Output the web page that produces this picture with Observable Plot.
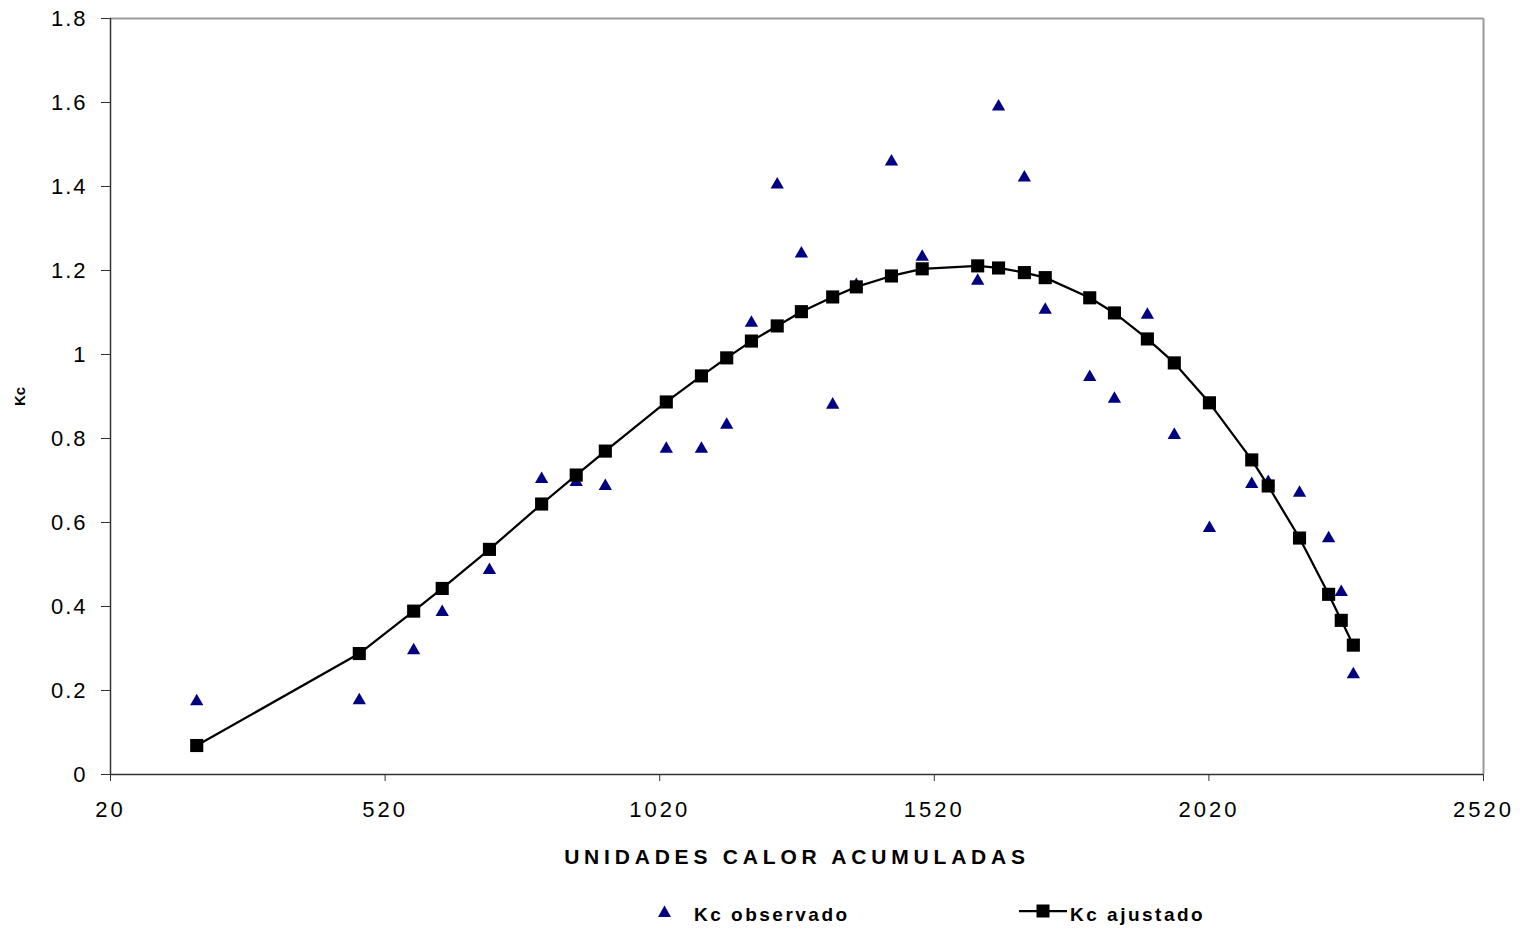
<!DOCTYPE html>
<html>
<head>
<meta charset="utf-8">
<script src="https://cdn.jsdelivr.net/npm/d3@7"></script>
<script src="https://cdn.jsdelivr.net/npm/@observablehq/plot@0.6"></script>
<style>
  body { margin: 0; background: #fff; font-family: "Liberation Sans", Arial, sans-serif; }
  #wrap { position: relative; width: 1520px; height: 931px; overflow: hidden; }
  #chart svg text { font-family: "Liberation Sans", Arial, sans-serif; fill: #000; }
  g[aria-label="x-axis tick label"] text { letter-spacing: 3px; }
  g[aria-label="y-axis tick label"] text { letter-spacing: 2px; }
  g[aria-label="x-axis label"] text { font-size: 21px; font-weight: bold; letter-spacing: 4.8px; }
  g[aria-label="y-axis label"] text { font-size: 15px; font-weight: bold; }
  .leg { position: absolute; font-size: 19px; font-weight: bold; letter-spacing: 2.5px; line-height: 19px; color: #000; white-space: nowrap; }
  .sw { position: absolute; }
</style>
</head>
<body>
<div id="wrap">
  <div id="chart"></div>
  <div id="legend"></div>
</div>
<script>
// ---- data ----
const ucaX   = [177, 473, 572, 624, 710, 805, 868, 921, 1032, 1096, 1142, 1187, 1234, 1278, 1335, 1378, 1442, 1498, 1599, 1637, 1684, 1722, 1803, 1848, 1908, 1957, 2021, 2098, 2128, 2185, 2238, 2261, 2283];
const kcObs  = [0.179, 0.181, 0.300, 0.391, 0.491, 0.708, 0.701, 0.691, 0.780, 0.780, 0.837, 1.080, 1.409, 1.245, 0.885, 1.170, 1.464, 1.237, 1.180, 1.595, 1.426, 1.111, 0.951, 0.899, 1.099, 0.813, 0.591, 0.696, 0.701, 0.675, 0.567, 0.439, 0.243];
const kcAdj  = [0.069, 0.288, 0.389, 0.443, 0.536, 0.644, 0.713, 0.770, 0.887, 0.949, 0.992, 1.032, 1.068, 1.102, 1.137, 1.161, 1.187, 1.204, 1.211, 1.206, 1.195, 1.183, 1.135, 1.099, 1.037, 0.980, 0.885, 0.749, 0.687, 0.563, 0.429, 0.367, 0.308];
const xTicks = [20, 520, 1020, 1520, 2020, 2520];
const yTicks = [0, 0.2, 0.4, 0.6, 0.8, 1, 1.2, 1.4, 1.6, 1.8];
const xTitle = "UNIDADES CALOR ACUMULADAS";
const yTitle = "Kc";
const seriesNames = ["Kc observado", "Kc ajustado"];
const obsColor = "#000080";
const adjColor = "#000000";

const data = ucaX.map((x, i) => ({x, obs: kcObs[i], adj: kcAdj[i]}));

const chart = Plot.plot({
  width: 1520,
  height: 880,
  marginLeft: 110,
  marginRight: 37,
  marginTop: 18,
  marginBottom: 106,
  style: {fontFamily: "Liberation Sans, Arial, sans-serif", color: "#000", background: "#fff", overflow: "visible"},
  x: {domain: [20, 2520]},
  y: {domain: [0, 1.8]},
  marks: [
    Plot.ruleY([1.8], {stroke: "#999", strokeWidth: 2}),
    Plot.ruleX([2520], {stroke: "#999", strokeWidth: 2}),
    Plot.axisX({ticks: xTicks, tickSize: 7, tickPadding: 20, fontSize: 22, stroke: "#333",
      tickFormat: d => String(d), label: xTitle, labelAnchor: "center", labelArrow: "none", labelOffset: 89}),
    Plot.axisY({ticks: yTicks, tickSize: 9, tickPadding: 14, fontSize: 22, stroke: "#333",
      tickFormat: d => String(+d.toFixed(1)), label: yTitle, labelAnchor: "center", labelArrow: "none", labelOffset: 96}),
    Plot.ruleX([20], {stroke: "#333", strokeWidth: 1.5}),
    Plot.ruleY([0], {stroke: "#333", strokeWidth: 1.5}),
    Plot.dot(data, {x: "x", y: "obs", symbol: "triangle", r: 4.94, fill: obsColor, stroke: "none", dy: 2}),
    Plot.line(data, {x: "x", y: "adj", stroke: adjColor, strokeWidth: 2.25}),
    Plot.dot(data, {x: "x", y: "adj", symbol: "square", r: 7.4, fill: adjColor, stroke: "none"})
  ]
});
document.getElementById("chart").appendChild(chart);

// ---- legend (HTML, below the SVG) ----
const leg = document.getElementById("legend");
leg.innerHTML = `
  <svg class="sw" style="left:657px;top:905px" width="15" height="13">
    <polygon points="7.5,0.5 14,12 1,12" fill="${obsColor}"/>
  </svg>
  <div class="leg" style="left:694px;top:905px">${seriesNames[0]}</div>
  <svg class="sw" style="left:1019px;top:904px" width="48" height="14">
    <line x1="0" y1="7" x2="48" y2="7" stroke="${adjColor}" stroke-width="2.25"/>
    <rect x="17.5" y="0.5" width="13" height="13" fill="${adjColor}"/>
  </svg>
  <div class="leg" style="left:1070px;top:905px">${seriesNames[1]}</div>
`;
</script>
</body>
</html>
